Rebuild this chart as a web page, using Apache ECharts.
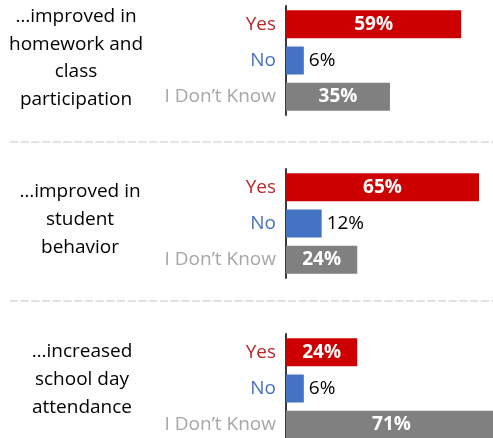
<!DOCTYPE html>
<html>
<head>
<meta charset="utf-8">
<script src="https://cdn.jsdelivr.net/npm/echarts@6/dist/echarts.min.js"></script>
<style>html,body{margin:0;padding:0;background:#fff}#c{width:493px;height:438px}</style>
</head>
<body>
<div id="c"></div>
<script>
var categories = ['Yes', 'No', 'I Don\u2019t Know'];
var homeworkValues = [59, 6, 35];
var behaviorValues = [65, 12, 24];
var attendanceValues = [24, 6, 71];
var questions = [
  '\u2026improved in\nhomework and\nclass\nparticipation',
  '\u2026improved in\nstudent\nbehavior',
  '\u2026increased\nschool day\nattendance'
];

var barColors = ['#cc0000', '#4472c4', '#808080'];
var labelColors = ['#c0262b', '#4472c4', '#a6a6a6'];
var FONT = '"Open Sans", "Noto Sans", sans-serif';

var panels = [homeworkValues, behaviorValues, attendanceValues];
var gridTops = [6, 169, 334];
var gridHeight = 109;
var textCenters = [{x: 76, y: 58, lh: 27.5}, {x: 80, y: 220, lh: 28}, {x: 82, y: 380, lh: 28}];

var grids = [], xAxes = [], yAxes = [], series = [], graphics = [];
panels.forEach(function (vals, i) {
  grids.push({left: 286, top: gridTops[i], width: 297, height: gridHeight, outerBoundsMode: 'none', containLabel: false});
  xAxes.push({type: 'value', gridIndex: i, min: 0, max: 100, show: false});
  yAxes.push({
    type: 'category', gridIndex: i, data: categories, inverse: true,
    axisLine: {show: true, lineStyle: {color: '#3a3a3a', width: 2}},
    axisTick: {show: false},
    axisLabel: {
      margin: 10, fontFamily: FONT, fontSize: 19,
      formatter: function (v, idx) { return '{c' + idx + '|' + v + '}'; },
      rich: {
        c0: {color: labelColors[0], fontFamily: FONT, fontSize: 19},
        c1: {color: labelColors[1], fontFamily: FONT, fontSize: 19},
        c2: {color: labelColors[2], fontFamily: FONT, fontSize: 19}
      }
    }
  });
  series.push({
    type: 'bar', xAxisIndex: i, yAxisIndex: i, barWidth: 28,
    data: vals.map(function (v, k) {
      var inside = v >= 20;
      return {
        value: v,
        itemStyle: {color: barColors[k]},
        label: inside ?
          {show: true, position: 'inside', color: '#fff', fontWeight: 'bold', fontSize: 19, fontFamily: FONT, formatter: '{c}%'} :
          {show: true, position: 'right', distance: 5, color: '#000', fontSize: 19, fontFamily: FONT, formatter: '{c}%'}
      };
    })
  });
  var c = textCenters[i];
  graphics.push({
    type: 'text', x: c.x, y: c.y,
    style: {
      text: questions[i], fill: '#000', font: '19px ' + FONT,
      textAlign: 'center', textVerticalAlign: 'middle', lineHeight: c.lh
    }
  });
});
[142, 301].forEach(function (y) {
  graphics.push({
    type: 'line', shape: {x1: 10, y1: y, x2: 493, y2: y},
    style: {stroke: '#e2e2e2', lineWidth: 2, lineDash: [8, 2.7]}
  });
});

var chart = echarts.init(document.getElementById('c'), null, {renderer: 'canvas'});
chart.setOption({
  animation: false,
  grid: grids, xAxis: xAxes, yAxis: yAxes, series: series, graphic: graphics
});
</script>
</body>
</html>
